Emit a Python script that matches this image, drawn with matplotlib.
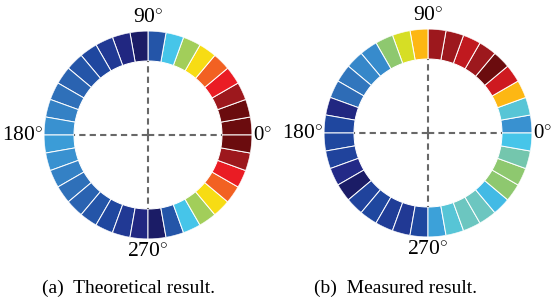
import numpy as np
import matplotlib
matplotlib.use("Agg")
import matplotlib.pyplot as plt
from matplotlib.colors import LinearSegmentedColormap

plt.rcParams['font.family'] = ['Liberation Serif', 'DejaVu Serif']
plt.rcParams['mathtext.fontset'] = 'custom'
plt.rcParams['mathtext.rm'] = 'Liberation Serif'
plt.rcParams['mathtext.it'] = 'Liberation Serif:italic'

# 36 segments, 10 degrees each, counter-clockwise from 0 deg (east)
seg_start_deg = np.arange(0, 360, 10)

# colour level of each segment (0 = dark navy ... 1 = dark red)
theoretical = [1.00, 1.00, 0.95, 0.84, 0.78, 0.66, 0.53, 0.36, 0.15, 0.00,
               0.05, 0.09, 0.12, 0.15, 0.18, 0.21, 0.24, 0.27, 0.29, 0.27,
               0.24, 0.21, 0.18, 0.15, 0.12, 0.09, 0.05, 0.00, 0.15, 0.36,
               0.53, 0.66, 0.78, 0.84, 0.95, 1.00]
measured = [0.27, 0.39, 0.72, 0.88, 1.00, 0.95, 0.90, 0.95, 0.95, 0.72,
            0.60, 0.50, 0.26, 0.25, 0.22, 0.20, 0.05, 0.12, 0.12, 0.11,
            0.06, 0.00, 0.11, 0.12, 0.10, 0.09, 0.12, 0.30, 0.39, 0.42,
            0.42, 0.34, 0.50, 0.50, 0.44, 0.36]

captions = ['(a)  Theoretical result.', '(b)  Measured result.']
angle_labels = [r'0$^{\circ}$', r'90$^{\circ}$', r'180$^{\circ}$', r'270$^{\circ}$']

# jet-like palette as printed in the paper
cmap_pos = [0.0, 0.06, 0.12, 0.20, 0.28, 0.36, 0.42, 0.50, 0.60, 0.66,
            0.72, 0.78, 0.84, 0.90, 0.95, 1.0]
cmap_hex = ['#1b1c66', '#232a88', '#1f48a0', '#2e6cb6', '#3a96d4', '#45c5ea',
            '#6cc6c0', '#8dc870', '#d6de25', '#f8dc14', '#fdb913', '#f26122',
            '#ec1c24', '#c1191f', '#a0191e', '#6b0c0e']
cmap = LinearSegmentedColormap.from_list('ring', list(zip(cmap_pos, cmap_hex)))

W, H = 553, 303
fig = plt.figure(figsize=(W / 100, H / 100), dpi=100)

r_in, r_out = 74, 104
rings = [(theoretical, 148, 135, 128), (measured, 428, 133, 395)]

for (vals, cx, cy, cap_x), cap in zip(rings, captions):
    ax = fig.add_axes([(cx - r_out) / W, (H - cy - r_out) / H,
                       2 * r_out / W, 2 * r_out / H], projection='polar')
    theta = np.deg2rad(seg_start_deg + 5)
    ax.bar(theta, r_out - r_in, width=np.deg2rad(10), bottom=r_in,
           color=cmap(np.array(vals)), edgecolor='white', linewidth=0.7)
    for a in [0, 90, 180, 270]:
        ax.plot([np.deg2rad(a)] * 2, [0, r_in], color='#686868', lw=1.5,
                dashes=(3, 2))
    ax.set_ylim(0, r_out)
    ax.axis('off')

    ax.text(0, r_out + 1, angle_labels[0], ha='left', va='center', fontsize=15)
    ax.text(np.pi / 2, r_out + 13, angle_labels[1], ha='center', va='center', fontsize=15.5)
    ax.text(np.pi, r_out + 1, angle_labels[2], ha='right', va='center', fontsize=15.5)
    ax.text(3 * np.pi / 2, r_out + 13, angle_labels[3], ha='center', va='center', fontsize=15.5)

    fig.text(cap_x / W, 1 - 288 / H, cap, ha='center', va='center', fontsize=14)

fig.savefig('out.png', dpi=100)
